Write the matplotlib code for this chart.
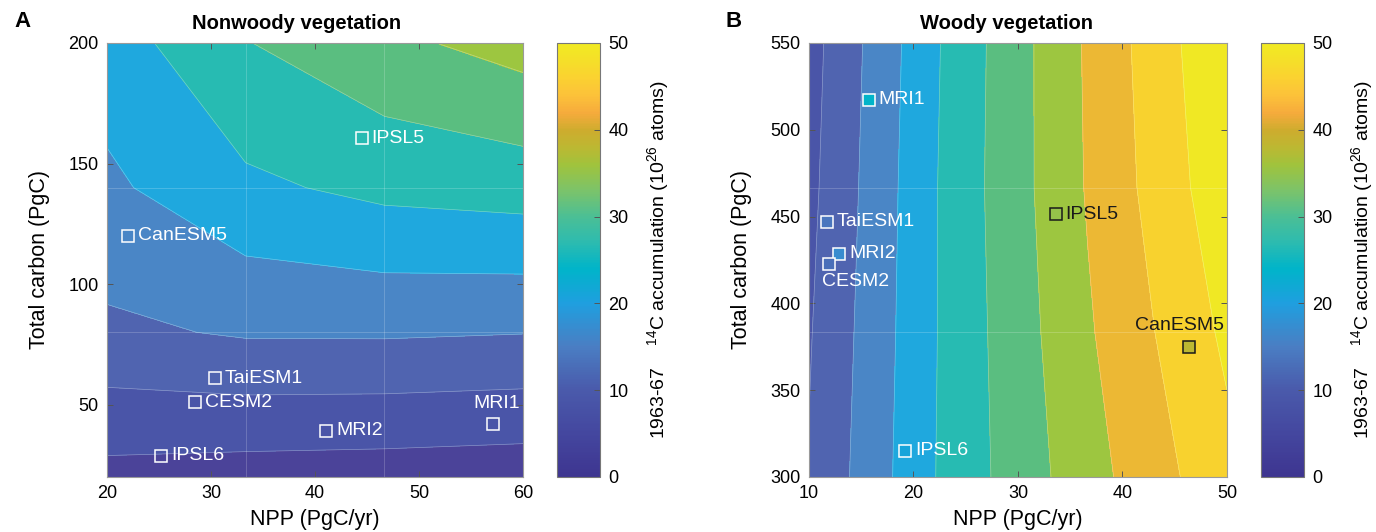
import numpy as np
import matplotlib
matplotlib.use("Agg")
import matplotlib.pyplot as plt
from matplotlib.colors import LinearSegmentedColormap, Normalize
from matplotlib.cm import ScalarMappable

plt.rcParams['font.family'] = ['Liberation Sans', 'DejaVu Sans']
plt.rcParams['mathtext.default'] = 'regular'

# ---- data -------------------------------------------------------------
# panel A: nonwoody vegetation, 14C accumulation on a 4x4 grid
npp_a = [20, 33.33, 46.67, 60]
carbon_a = [20, 80, 140, 200]
z_a = [[3.43, 2.76, 2.44, 1.96],
       [14.03, 15.53, 15.59, 15.15],
       [19.05, 24.0, 26.3, 27.2],
       [22.5, 29.8, 33.8, 37.0]]

models_a = ["IPSL5", "CanESM5", "TaiESM1", "CESM2", "MRI2", "MRI1", "IPSL6"]
models_a_npp = [44.5, 22.0, 30.4, 28.5, 41.1, 57.1, 25.2]
models_a_carbon = [160.4, 120.0, 61.0, 50.9, 39.2, 41.8, 28.8]

# panel B: woody vegetation
npp_b = [10, 23.33, 36.67, 50]
carbon_b = [300, 383.33, 466.67, 550]
z_b = [[10.3, 26.45, 38.05, 48.5],
       [9.6, 26.3, 39.4, 51.0],
       [8.72, 26.35, 40.4, 53.4],
       [8.1, 26.0, 40.65, 54.6]]

models_b = ["MRI1", "TaiESM1", "MRI2", "CESM2", "IPSL6", "IPSL5", "CanESM5"]
models_b_npp = [15.7, 11.7, 12.9, 11.9, 19.2, 33.6, 46.4]
models_b_carbon = [517.2, 447.0, 428.7, 422.9, 315.0, 451.3, 375.1]
models_b_value = [24, 14, 17, 13, 21, 35, 38]

levels = np.arange(0, 60, 5)
band_colors = ["#4b4399", "#4a55a8", "#5064b0", "#4a86c6", "#1fa8de", "#27bbb2",
               "#5abe80", "#9dc640", "#ecb834", "#f8d22e", "#f0e824"]

# colour bar gradient (muted parula as printed)
cb_vals = [0, 5, 10, 15, 20, 24, 27, 30, 33, 36, 38, 40, 42, 44, 46, 48, 50]
cb_hex = ["#3e3590", "#44479f", "#4a5aab", "#4a7ec3", "#1f9fdf", "#00b4c9", "#2cbbb0",
          "#4bbf95", "#7bc36a", "#a0c33c", "#bcb832", "#ceac2e", "#f6ab3c", "#fcc13a",
          "#fbd131", "#f5df29", "#f1ea22"]
cmap = LinearSegmentedColormap.from_list(
    "muted_parula", list(zip(np.array(cb_vals) / 50.0, cb_hex)))
norm = Normalize(0, 50)

fig = plt.figure(figsize=(13.76, 5.32), dpi=100)
ax_a = fig.add_axes([0.0778, 0.1034, 0.3023, 0.8158])
cax_a = fig.add_axes([0.4048, 0.1034, 0.0312, 0.8158])
ax_b = fig.add_axes([0.5879, 0.1034, 0.3038, 0.8158])
cax_b = fig.add_axes([0.9164, 0.1034, 0.0312, 0.8158])


def style_axes(ax):
    for s in ax.spines.values():
        s.set_color("#9a9a9a")
        s.set_linewidth(0.8)
    ax.tick_params(direction="in", length=4, width=0.7, color="#555555",
                   labelsize=13, top=True, right=True, pad=6)


def draw_field(ax, x, y, z, vlines=True):
    X, Y = np.meshgrid(x, y)
    Z = np.array(z)
    ax.contourf(X, Y, Z, levels=levels, colors=band_colors)
    ax.contour(X, Y, Z, levels=levels[1:], colors="white", linewidths=0.5, alpha=0.35)
    # faint patch seams like the original rendering
    for yy in y[1:-1]:
        ax.axhline(yy, color="white", lw=0.6, alpha=0.22)
    if vlines:
        for xx in x[1:-1]:
            ax.axvline(xx, color="white", lw=0.6, alpha=0.22)


def draw_colorbar(cax):
    sm = ScalarMappable(norm=norm, cmap=cmap)
    cb = fig.colorbar(sm, cax=cax)
    cb.set_ticks([0, 10, 20, 30, 40, 50])
    cb.outline.set_edgecolor("#777777")
    cb.outline.set_linewidth(0.8)
    cax.tick_params(direction="in", length=4, width=0.7, color="#555555",
                    labelsize=13, pad=6)
    cb.set_label(r"1963-67    $^{14}$C accumulation (10$^{26}$ atoms)",
                 fontsize=14, labelpad=12)


# ---- panel A ----------------------------------------------------------
draw_field(ax_a, npp_a, carbon_a, z_a)
style_axes(ax_a)
ax_a.set_xlim(20, 60)
ax_a.set_ylim(20, 200)
ax_a.set_xticks([20, 30, 40, 50, 60])
ax_a.set_yticks([50, 100, 150, 200])
ax_a.set_xlabel("NPP (PgC/yr)", fontsize=15.5, labelpad=5)
ax_a.set_ylabel("Total carbon (PgC)", fontsize=15.5, labelpad=13)
ax_a.set_title("Nonwoody vegetation", fontsize=14.5, fontweight="bold", x=0.455, pad=10)

offsets_a = {"MRI1": (3, 15, "center")}
for name, mx, my in zip(models_a, models_a_npp, models_a_carbon):
    ax_a.plot(mx, my, "s", ms=9, mfc="none", mec="white", mew=1.1)
    dx, dy, ha = offsets_a.get(name, (7, 0, "left"))
    ax_a.annotate(name, (mx, my), xytext=(dx, dy), textcoords="offset points",
                  ha=ha, va="center", color="white", fontsize=14)
draw_colorbar(cax_a)

# ---- panel B ----------------------------------------------------------
draw_field(ax_b, npp_b, carbon_b, z_b, vlines=False)
style_axes(ax_b)
ax_b.set_xlim(10, 50)
ax_b.set_ylim(300, 550)
ax_b.set_xticks([10, 20, 30, 40, 50])
ax_b.set_yticks([300, 350, 400, 450, 500, 550])
ax_b.set_xlabel("NPP (PgC/yr)", fontsize=15.5, labelpad=5)
ax_b.set_ylabel("Total carbon (PgC)", fontsize=15.5, labelpad=13)
ax_b.set_title("Woody vegetation", fontsize=14.5, fontweight="bold", x=0.472, pad=10)

offsets_b = {"CESM2": (-5, -13, "left"), "CanESM5": (-7, 15, "center")}
dark = {"IPSL5", "CanESM5"}
for name, mx, my, v in zip(models_b, models_b_npp, models_b_carbon, models_b_value):
    c = "#1a1a1a" if name in dark else "white"
    ax_b.plot(mx, my, "s", ms=9, mfc=cmap(norm(v)), mec=c, mew=1.1)
    dx, dy, ha = offsets_b.get(name, (7, 0, "left"))
    ax_b.annotate(name, (mx, my), xytext=(dx, dy), textcoords="offset points",
                  ha=ha, va="center", color=c, fontsize=14)
draw_colorbar(cax_b)

fig.text(0.0105, 0.96, "A", fontsize=16, fontweight="bold", va="center")
fig.text(0.5275, 0.96, "B", fontsize=16, fontweight="bold", va="center")

fig.savefig("out.png", dpi=100)
